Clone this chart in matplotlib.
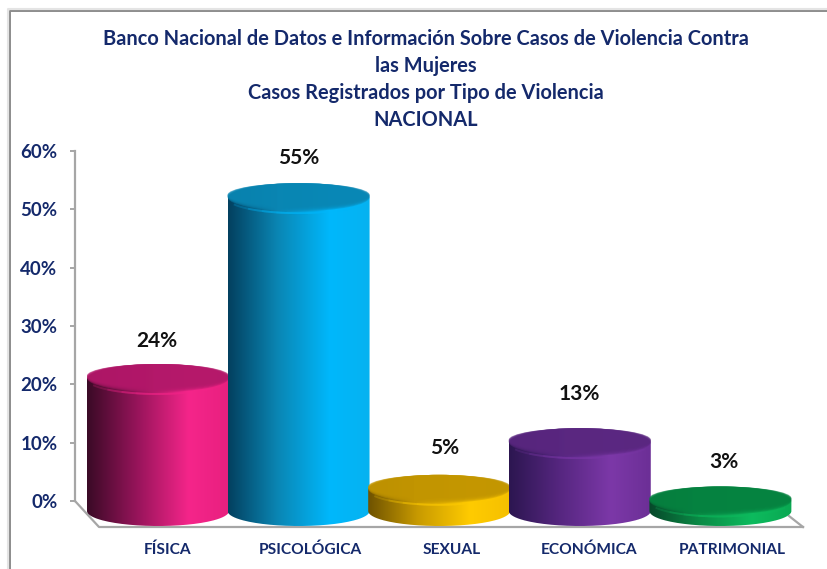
# -*- coding: utf-8 -*-
import numpy as np
import matplotlib
matplotlib.use('Agg')
import matplotlib.pyplot as plt
from matplotlib.colors import LinearSegmentedColormap
from matplotlib.lines import Line2D
from matplotlib.path import Path
from matplotlib.patches import PathPatch, Ellipse

categorias = ['FÍSICA', 'PSICOLÓGICA', 'SEXUAL', 'ECONÓMICA', 'PATRIMONIAL']
valores = [24, 55, 5, 13, 3]
yticks = [0, 10, 20, 30, 40, 50, 60]
titulo = ('Banco Nacional de Datos e Información Sobre Casos de Violencia Contra\n'
          'las Mujeres\nCasos Registrados por Tipo de Violencia\nNACIONAL')

# oscuro, medio, brillante, final, tapa
colores = [
    ['#3a0a26', '#96145a', '#f5258a', '#e8207f', '#b3186a'],
    ['#03405f', '#0a86b4', '#00b8fc', '#06b2f0', '#0a86b3'],
    ['#6e5200', '#c89a00', '#ffcb00', '#f5c000', '#c29500'],
    ['#2c1650', '#55267f', '#7c38a8', '#6c2f96', '#5a2780'],
    ['#07482a', '#0a8a45', '#0dbb5e', '#0aa852', '#058240'],
]

plt.rcParams['font.family'] = ['Lato', 'DejaVu Sans']
azul = '#14296b'
gris = '#a6a6a6'
W, H = 827, 569

fig = plt.figure(figsize=(W / 100, H / 100), dpi=100, facecolor='white')
# marco del grafico
fig.add_artist(Line2D([10 / W, 10 / W, 1], [0, 1 - 11 / H, 1 - 11 / H], color='#8c8c8c', lw=1.4))
fig.add_artist(Line2D([8 / W, 8 / W, 1], [0, 1 - 9 / H, 1 - 9 / H], color='#e4e4e4', lw=1.5))

ax = fig.add_axes([75 / W, (H - 501) / H, (803 - 75) / W, 350 / H])
ax.patch.set_visible(False)
px_x = 1 / 140.6
px_y = 60 / 350
xlim = ((75 - 158) * px_x, (803 - 158) * px_x)

mitad = 71 * px_x
alto = 15 * px_y
base = -10 * px_y
desfase = 18 * px_y
t = np.linspace(0, np.pi, 80)

# piso del grafico
ax.plot([xlim[0], xlim[0] + 24 * px_x, xlim[1]], [0, -26 * px_y, -26 * px_y],
        color=gris, lw=1.6, clip_on=False, zorder=1)
ax.plot([xlim[1] - 14 * px_x, xlim[1]], [-15 * px_y, -26 * px_y], color=gris, lw=1.6, clip_on=False, zorder=1)

for i, v in enumerate(valores):
    c = colores[i]
    arriba = v - desfase
    z = 2 + i
    cmap = LinearSegmentedColormap.from_list('c', [(0, c[0]), (0.35, c[1]), (0.72, c[2]), (1, c[3])])
    # cuerpo del cilindro
    xs = np.r_[i - mitad * np.cos(t), i + mitad * np.cos(t)]
    ys = np.r_[arriba + alto * np.sin(t), base - alto * np.sin(t)]
    forma = PathPatch(Path(np.c_[xs, ys]), transform=ax.transData, fc='none', ec='none')
    ax.add_patch(forma)
    im = ax.imshow(np.linspace(0, 1, 256)[None, :], cmap=cmap, aspect='auto', zorder=z,
                   extent=(i - mitad, i + mitad, base - alto, arriba + alto))
    im.set_clip_path(forma)
    im.set_clip_box(fig.bbox)
    # brillo del borde delantero
    for f in [0.3, 0.5, 0.7, 0.9]:
        u = np.linspace(np.pi / 2 - np.arcsin(f), np.pi / 2 + np.arcsin(f), 40)
        ax.plot(i + mitad * np.cos(u), arriba - alto * np.sin(u), color=c[2], lw=1.4, alpha=0.22,
                zorder=z, clip_on=False)
    # tapa con borde suave
    for b in [13, 12, 11, 10, 9, 8]:
        ax.add_patch(Ellipse((i, arriba + (15 - b) / 2 * px_y), 2 * mitad, (15 + b) * px_y,
                             fc=c[4], ec='none', alpha=0.4, zorder=z, clip_on=False))

# etiquetas de valores
dx_etiqueta = [-1, 0, 5, -1, 3]
dy_etiqueta = [20, 22, 24, 31, 21]
for i, v in enumerate(valores):
    ax.annotate(f'{v}%', (i, v), xytext=(dx_etiqueta[i] * 0.72, dy_etiqueta[i] * 0.72),
                textcoords='offset points', ha='center', va='center', fontsize=15,
                fontweight='bold', color='#111111', zorder=10)

ax.set_xlim(xlim)
ax.set_ylim(0, 60)
for s in ['top', 'right', 'bottom']:
    ax.spines[s].set_visible(False)
ax.spines['left'].set_color(gris)
ax.spines['left'].set_linewidth(1.6)
ax.set_yticks(yticks)
ax.set_yticklabels([f'{y}%' for y in yticks], fontsize=13.5, fontweight='bold', color=azul)
ax.tick_params(axis='y', color=gris, width=1.4, length=3.6, pad=9)
ax.set_xticks(np.arange(len(categorias)) + np.array([0.07, 0.085, 0.09, 0.065, 0.085]))
ax.set_xticklabels(categorias, fontsize=11.2, fontweight='bold', color=azul)
ax.tick_params(axis='x', length=0, pad=30)

fig.text(426 / W, 1 - 79.5 / H, titulo, ha='center', va='center', fontsize=14.4, fontweight='bold',
         color=azul, linespacing=1.42)

fig.savefig('out.png', dpi=100)
